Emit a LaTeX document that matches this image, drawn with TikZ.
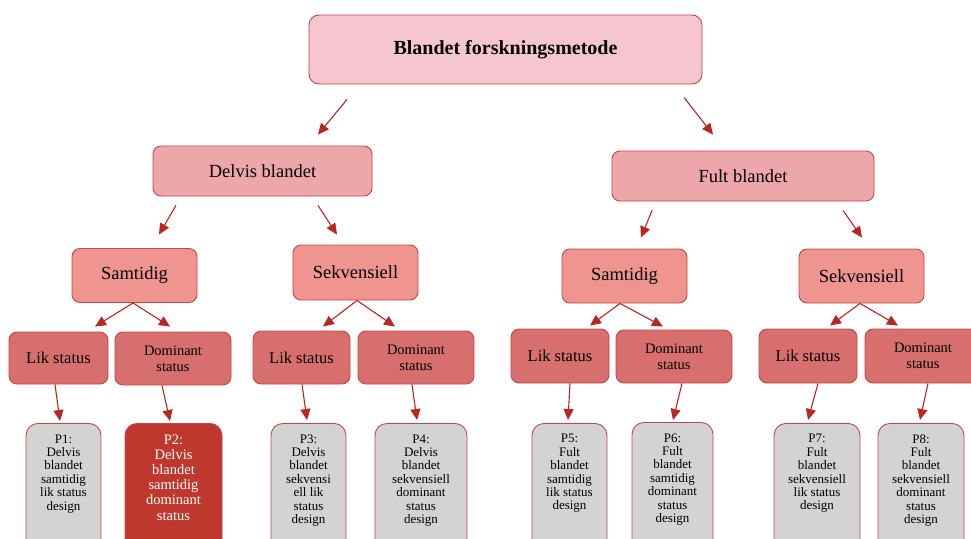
\documentclass[tikz,border=0pt]{standalone}
\usepackage{fontspec}
\setmainfont{Liberation Serif}
\usetikzlibrary{arrows.meta, positioning, calc}
\definecolor{RB}{RGB}{196,70,66}
\definecolor{RA}{RGB}{186,38,32}
\definecolor{CA}{RGB}{246,198,208}
\definecolor{CB}{RGB}{237,166,170}
\definecolor{CC}{RGB}{240,148,143}
\definecolor{CD}{RGB}{214,111,110}
\definecolor{LGr}{RGB}{211,211,211}
\definecolor{DR}{RGB}{190,56,45}

\begin{document}
\begin{tikzpicture}[
  x=1pt, y=-1pt,
  box/.style={draw=RB, fill=#1, rounded corners=8pt, align=center,
              inner sep=0pt, line width=0.9pt},
  pbox/.style={draw=RB, fill=#1, rounded corners=12pt, align=center, anchor=north,
               inner xsep=0pt, inner ysep=11pt, text depth=80pt, line width=0.9pt,
               font=\fontsize{13}{13.4}\selectfont},
  arr/.style={draw=RA, line width=1.1pt, -{Triangle[length=11pt,width=10pt]}},
  lvl/.style={font=\fontsize{18.5}{20}\selectfont},
  lik/.style={font=\fontsize{16.5}{18}\selectfont},
  dom/.style={font=\fontsize{14.5}{16}\selectfont}
]
\useasboundingbox (0,0) rectangle (971,538);

% Top
\node[box=CA, minimum width=393pt, minimum height=69pt, rounded corners=10pt,
      font=\fontsize{20}{22}\selectfont\bfseries] (top) at (505.5,49.5)
  {Blandet forskningsmetode};

% Level 2
\node[box=CB, lvl, minimum width=219pt, minimum height=50pt] (delvis) at (262.5,171) {Delvis blandet};
\node[box=CB, lvl, minimum width=262pt, minimum height=50pt] (fult)   at (743,176)   {Fult blandet};

% Level 3
\node[box=CC, lvl, minimum width=125pt, minimum height=54pt] (dsam) at (134.5,275.5) {Samtidig};
\node[box=CC, lvl, minimum width=125pt, minimum height=55pt] (dsek) at (355.5,272.5) {Sekvensiell};
\node[box=CC, lvl, minimum width=125pt, minimum height=54pt] (fsam) at (624.5,276)   {Samtidig};
\node[box=CC, lvl, minimum width=125pt, minimum height=54pt] (fsek) at (861.5,276)   {Sekvensiell};

% Level 4
\node[box=CD, lik, minimum width=99pt,  minimum height=52pt] (dsl) at (58.5,358)  {Lik status};
\node[box=CD, dom, minimum width=116pt, minimum height=53pt] (dsd) at (173,358.5) {Dominant\\status};
\node[box=CD, lik, minimum width=97pt,  minimum height=53pt] (dkl) at (301.5,357.5) {Lik status};
\node[box=CD, dom, minimum width=116pt, minimum height=53pt] (dkd) at (416,357.5) {Dominant\\status};
\node[box=CD, lik, minimum width=98pt,  minimum height=54pt] (fsl) at (560,356)   {Lik status};
\node[box=CD, dom, minimum width=116pt, minimum height=53pt] (fsd) at (674,356.5) {Dominant\\status};
\node[box=CD, lik, minimum width=98pt,  minimum height=54pt] (fkl) at (808,356)   {Lik status};
\node[box=CD, dom, minimum width=116pt, minimum height=54pt] (fkd) at (923,356)   {Dominant\\status};

% Designs
\node[pbox=LGr, minimum width=75pt] (p1) at (63.5,423)
  {P1:\\Delvis\\blandet\\samtidig\\lik status\\design};
\node[pbox=DR, minimum width=97pt, text=white,
      font=\fontsize{14.5}{15.2}\selectfont] (p2) at (173.5,423)
  {P2:\\Delvis\\blandet\\samtidig\\dominant\\status};
\node[pbox=LGr, minimum width=75pt] (p3) at (308.5,423)
  {P3:\\Delvis\\blandet\\sekvensi\\ell lik\\status\\design};
\node[pbox=LGr, minimum width=92pt] (p4) at (421,423)
  {P4:\\Delvis\\blandet\\sekvensiell\\dominant\\status\\design};
\node[pbox=LGr, minimum width=75pt] (p5) at (569.5,423)
  {P5:\\Fult\\blandet\\samtidig\\lik status\\design};
\node[pbox=LGr, minimum width=81pt] (p6) at (672.5,422)
  {P6:\\Fult\\blandet\\samtidig\\dominant\\status\\design};
\node[pbox=LGr, minimum width=86pt] (p7) at (817,423)
  {P7:\\Fult\\blandet\\sekvensiell\\lik status\\design};
\node[pbox=LGr, minimum width=86pt] (p8) at (921,423)
  {P8:\\Fult\\blandet\\sekvensiell\\dominant\\status\\design};

% Arrows
\draw[arr] ($(top.south)+(-158.5,15)$) -- ($(delvis.north)+(55.5,-11)$);
\draw[arr] ($(top.south)+(178.5,13)$)  -- ($(fult.north)+(-30,-16)$);
\draw[arr] ($(delvis.south)+(-86.5,9)$) -- ($(dsam.north)+(24.5,-13.5)$);
\draw[arr] ($(delvis.south)+(55.5,9)$)  -- ($(dsek.north)+(-18.5,-10)$);
\draw[arr] ($(fult.south)+(-91,9)$) -- ($(fsam.north)+(16.5,-11)$);
\draw[arr] ($(fult.south)+(100,9)$) -- ($(fsek.north)+(0.5,-11)$);

\draw[arr] ($(dsam.south)+(-1.5,0)$) -- ($(dsl.north)+(36.5,-5)$);
\draw[arr] ($(dsam.south)+(-1.5,0)$) -- ($(dsd.north)+(-3,-5)$);
\draw[arr] ($(dsek.south)+(1.5,0)$)  -- ($(dkl.north)+(21.5,-4)$);
\draw[arr] ($(dsek.south)+(1.5,0)$)  -- ($(dkd.north)+(-21,-4)$);
\draw[arr] ($(fsam.south)+(-4.5,0)$) -- ($(fsl.north)+(30,-3)$);
\draw[arr] ($(fsam.south)+(-4.5,0)$) -- ($(fsd.north)+(-11,-3)$);
\draw[arr] ($(fsek.south)+(-1.5,0)$) -- ($(fkl.north)+(22,-3)$);
\draw[arr] ($(fsek.south)+(-1.5,0)$) -- ($(fkd.north)+(-25,-3)$);

\draw[arr] ($(dsl.south)+(-3.5,0)$) -- ($(p1.north)+(-3.5,-2)$);
\draw[arr] ($(dsd.south)+(-11,0)$)  -- ($(p2.north)+(-3.5,-2)$);
\draw[arr] ($(dkl.south)+(0.5,0)$)  -- ($(p3.north)+(-1.5,-3)$);
\draw[arr] ($(dkd.south)+(-4,0)$)   -- ($(p4.north)+(-4,-3)$);
\draw[arr] ($(fsl.south)+(10,0)$)   -- ($(p5.north)+(-1.5,-3)$);
\draw[arr] ($(fsd.south)+(8,0)$)    -- ($(p6.north)+(0.5,-2)$);
\draw[arr] ($(fkl.south)+(10,0)$)   -- ($(p7.north)+(-9,-3)$);
\draw[arr] ($(fkd.south)+(5,0)$)    -- ($(p8.north)+(-1,-3)$);
\end{tikzpicture}
\end{document}
